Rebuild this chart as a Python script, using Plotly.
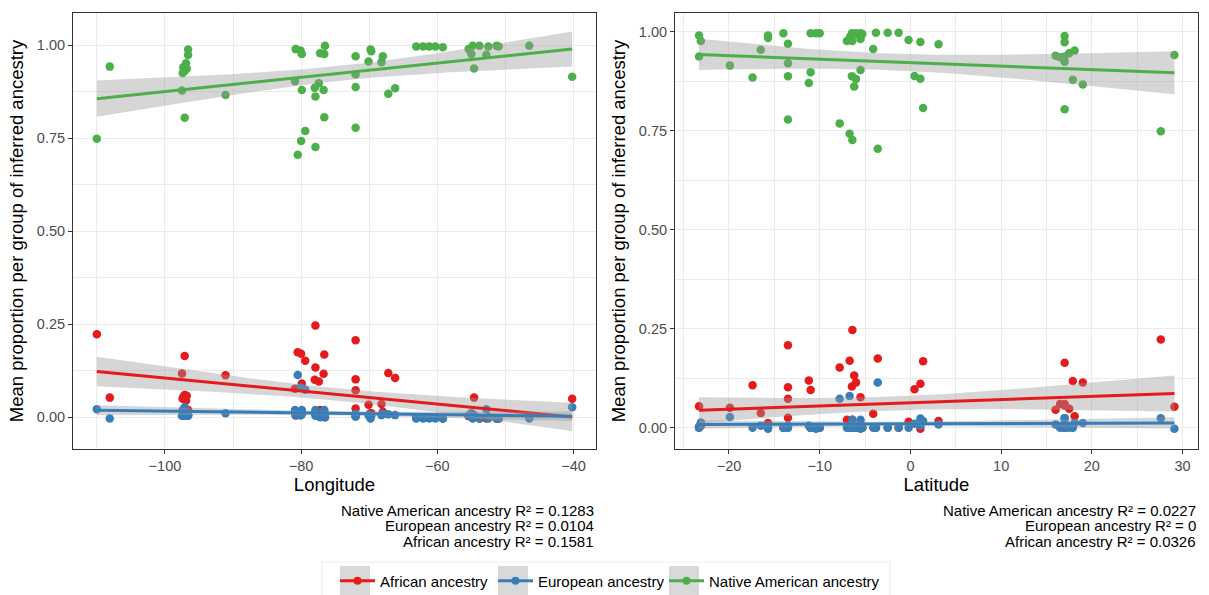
import numpy as np
import plotly.graph_objects as go

# ---------------- data ----------------
series_names = ["African ancestry", "European ancestry", "Native American ancestry"]
series_colors = ["#E41A1C", "#377EB8", "#4DAF4A"]

# Longitude panel
lon = [-110.0, -108.1, -97.5, -97.1, -96.6, -96.6, -96.9, -97.3, -96.8, -97.1, -97.4, -91.1,
       -80.8, -80.1, -79.9, -80.9, -79.9, -80.5, -80.0, -79.4,
       -77.9, -76.6, -77.9, -76.7, -78.0, -77.4, -77.2, -76.5, -76.6,
       -72.0, -72.0, -72.0, -72.0, -70.1, -69.8, -69.7, -68.2, -68.0, -67.2, -66.2,
       -63.1, -62.1, -61.2, -60.3, -59.2,
       -55.4, -54.8, -55.0, -54.6, -53.8, -52.8, -52.5, -51.3, -51.0, -46.5, -40.2]
lon_native = [0.748, 0.942, 0.878, 0.805, 0.988, 0.973, 0.951, 0.940, 0.936, 0.930, 0.925, 0.866,
              0.989, 0.985, 0.976, 0.903, 0.879, 0.705, 0.742, 0.769,
              0.726, 0.806, 0.862, 0.879, 0.885, 0.897, 0.978, 0.998, 0.976,
              0.778, 0.887, 0.921, 0.970, 0.956, 0.988, 0.983, 0.954, 0.970, 0.869, 0.884,
              0.996, 0.996, 0.996, 0.996, 0.994,
              0.989, 0.998, 0.976, 0.937, 0.998, 0.974, 0.996, 0.998, 0.996, 0.998, 0.915]
lon_african = [0.223, 0.053, 0.118, 0.165, 0.005, 0.020, 0.045, 0.055, 0.058, 0.060, 0.050, 0.113,
               0.005, 0.010, 0.015, 0.077, 0.091, 0.175, 0.171, 0.152,
               0.247, 0.169, 0.134, 0.117, 0.101, 0.096, 0.020, 0.000, 0.015,
               0.207, 0.102, 0.073, 0.024, 0.034, 0.011, 0.011, 0.036, 0.015, 0.119, 0.106,
               0.000, 0.000, 0.000, 0.000, -0.003,
               0.003, 0.000, 0.010, 0.053, -0.003, -0.003, 0.000, -0.003, -0.003, 0.000, 0.050]
lon_european = [0.022, -0.003, 0.004, 0.027, 0.004, 0.006, 0.004, 0.004, 0.005, 0.010, 0.020, 0.011,
                0.006, 0.005, 0.008, 0.020, 0.020, 0.114, 0.080, 0.074,
                0.020, 0.020, 0.004, 0.004, 0.012, 0.005, 0.000, 0.000, 0.006,
                0.010, 0.006, 0.002, 0.002, 0.006, -0.003, 0.004, 0.006, 0.010, 0.008, 0.006,
                -0.003, -0.003, -0.003, -0.003, -0.003,
                0.004, -0.003, 0.011, 0.006, -0.003, 0.022, -0.003, -0.003, -0.003, -0.003, 0.027]

# Latitude panel
lat = [-23.3, -23.1, -23.3, -19.9, -17.4, -16.5, -15.7, -15.7, -14.0,
       -13.5, -13.5, -13.5, -13.5, -11.0, -10.4, -10.0, -11.0, -11.2,
       -7.8, -6.7, -6.4, -3.6, -6.45, -6.0, -6.2, -5.5,
       -7.0, -6.65, -6.45, -6.4, -6.0, -5.8, -5.5, -5.5, -5.3,
       -4.1, -3.8, -2.5, -1.3, -0.2, 0.45, 1.1, 1.1, 1.4, 3.1,
       16.0, 16.5, 17.0, 17.0, 17.0, 17.0, 17.0, 17.5, 18.1, 17.9, 19.0, 27.6, 29.1]
lat_native = [0.991, 0.977, 0.938, 0.915, 0.885, 0.955, 0.991, 0.985, 0.997,
              0.970, 0.921, 0.888, 0.779, 0.997, 0.997, 0.997, 0.898, 0.871,
              0.769, 0.743, 0.727, 0.705, 0.888, 0.881, 0.862, 0.904,
              0.977, 0.988, 0.997, 0.977, 0.997, 0.994, 0.997, 0.982, 0.995,
              0.957, 0.998, 0.998, 0.998, 0.980, 0.889, 0.882, 0.975, 0.808, 0.969,
              0.940, 0.936, 0.990, 0.974, 0.938, 0.925, 0.805, 0.946, 0.953, 0.879, 0.867, 0.749, 0.942]
lat_african = [0.003, 0.005, 0.054, 0.050, 0.107, 0.037, 0.000, 0.012, 0.000,
               0.025, 0.073, 0.102, 0.208, 0.000, 0.000, 0.000, 0.095, 0.119,
               0.152, 0.169, 0.247, 0.175, 0.104, 0.114, 0.132, 0.077,
               0.020, 0.005, 0.000, 0.020, 0.000, 0.003, 0.000, 0.010, 0.000,
               0.035, 0.000, 0.000, 0.000, 0.015, 0.097, 0.111, -0.003, 0.168, 0.017,
               0.045, 0.060, 0.000, 0.000, 0.056, 0.060, 0.164, 0.048, 0.029, 0.118, 0.114, 0.223, 0.053]
lat_european = [0.000, 0.013, 0.000, 0.027, 0.000, 0.005, 0.000, -0.003, 0.000,
                0.000, 0.000, 0.005, 0.005, 0.000, -0.003, 0.000, 0.000, 0.005,
                0.073, 0.080, 0.020, 0.114, 0.005, 0.000, 0.000, 0.020,
                0.000, 0.000, 0.000, 0.005, 0.000, 0.000, -0.003, 0.005, 0.000,
                0.000, 0.000, 0.000, 0.000, 0.000, 0.010, 0.005, 0.023, 0.017, 0.008,
                0.008, 0.000, 0.005, 0.024, 0.000, 0.010, 0.024, 0.000, 0.012, 0.000, 0.012, 0.024, -0.003]

r2_lon_labels = ["Native American ancestry R² = 0.1283",
                 "European ancestry R² = 0.0104",
                 "African ancestry R² = 0.1581"]
r2_lat_labels = ["Native American ancestry R² = 0.0227",
                 "European ancestry R² = 0",
                 "African ancestry R² = 0.0326"]

# ---------------- layout geometry ----------------
W, H = 1209, 595
ML, MR, MT, MB = 73, 11, 13, 146
PW, PH = W - ML - MR, H - MT - MB


def px_x(px):
    return (px - ML) / PW


def px_y(py):
    return (H - MB - py) / PH


FONT = "Liberation Sans, Arial, Helvetica, sans-serif"
T975 = 2.005  # t quantile for a 95% interval, ~55 df


def lm_fit(x, y):
    x = np.asarray(x, float)
    y = np.asarray(y, float)
    n = len(x)
    slope, inter = np.polyfit(x, y, 1)
    xs = np.linspace(x.min(), x.max(), 80)
    yh = inter + slope * xs
    res = y - (inter + slope * x)
    s = np.sqrt(np.sum(res ** 2) / (n - 2))
    xb = x.mean()
    se = s * np.sqrt(1.0 / n + (xs - xb) ** 2 / np.sum((x - xb) ** 2))
    return xs, yh, yh - T975 * se, yh + T975 * se


fig = go.Figure()

panels = [
    ("x", "y", lon, [lon_african, lon_european, lon_native]),
    ("x2", "y2", lat, [lat_african, lat_european, lat_native]),
]

for xa, ya, xv, ys in panels:
    # points first
    for name, col, yv in zip(series_names, series_colors, ys):
        fig.add_trace(go.Scatter(x=xv, y=yv, mode="markers", xaxis=xa, yaxis=ya,
                                 marker=dict(color=col, size=8.5, line=dict(width=0)),
                                 showlegend=False, hoverinfo="skip"))
    # smooths (ribbon + line per group)
    for name, col, yv in zip(series_names, series_colors, ys):
        xs, yh, lo, hi = lm_fit(xv, yv)
        fig.add_trace(go.Scatter(x=np.concatenate([xs, xs[::-1]]),
                                 y=np.concatenate([hi, lo[::-1]]),
                                 mode="lines", fill="toself", xaxis=xa, yaxis=ya,
                                 fillcolor="rgba(153,153,153,0.4)", line=dict(width=0),
                                 showlegend=False, hoverinfo="skip"))
        fig.add_trace(go.Scatter(x=xs, y=yh, mode="lines", xaxis=xa, yaxis=ya,
                                 line=dict(color=col, width=3),
                                 showlegend=False, hoverinfo="skip"))

# legend entries (one legend per key so each key box can be placed precisely)
legend_lefts = [335, 493, 664]
legend_ids = ["legend", "legend2", "legend3"]
for name, col, lid in zip(series_names, series_colors, legend_ids):
    fig.add_trace(go.Scatter(x=[None], y=[None], mode="lines+markers", name=name,
                             line=dict(color=col, width=3), marker=dict(color=col, size=8),
                             legend=lid, xaxis="x", yaxis="y"))

axis_common = dict(
    showline=True, mirror=True, linecolor="#333333", linewidth=1,
    ticks="outside", ticklen=4, tickwidth=1, tickcolor="#333333",
    showgrid=True, gridcolor="#ebebeb", gridwidth=1.1, zeroline=False,
    tickfont=dict(family=FONT, size=14.5, color="#4d4d4d"),
)
title_font = dict(family=FONT, size=18.5, color="black")

dom1 = [0, px_x(596)]
dom2 = [px_x(675), 1]

layout = dict(
    width=W, height=H, margin=dict(l=ML, r=MR, t=MT, b=MB, autoexpand=False),
    paper_bgcolor="white", plot_bgcolor="white",
    font=dict(family=FONT, color="black"),
    showlegend=True,
    xaxis=dict(domain=dom1, range=[-113.5, -36.7], tickvals=[-100, -80, -60, -40],
               minor=dict(tickvals=[-110, -90, -70, -50], showgrid=True, gridcolor="#ebebeb",
                          gridwidth=0.6, ticks=""),
               title=dict(text="Longitude", font=title_font, standoff=4), anchor="y",
               **axis_common),
    yaxis=dict(domain=[0, 1], range=[-0.085, 1.086], tickvals=[0, 0.25, 0.5, 0.75, 1.0],
               tickformat=".2f",
               minor=dict(tickvals=[0.125, 0.375, 0.625, 0.875], showgrid=True,
                          gridcolor="#ebebeb", gridwidth=0.6, ticks=""),
               title=dict(text="Mean proportion per group of inferred ancestry", font=title_font,
                          standoff=8), anchor="x", **axis_common),
    xaxis2=dict(domain=dom2, range=[-25.95, 31.7], tickvals=[-20, -10, 0, 10, 20, 30],
                minor=dict(tickvals=[-25, -15, -5, 5, 15, 25], showgrid=True, gridcolor="#ebebeb",
                           gridwidth=0.6, ticks=""),
                title=dict(text="Latitude", font=title_font, standoff=4), anchor="y2",
                **axis_common),
    yaxis2=dict(domain=[0, 1], range=[-0.054, 1.048], tickvals=[0, 0.25, 0.5, 0.75, 1.0],
                tickformat=".2f",
                minor=dict(tickvals=[0.125, 0.375, 0.625, 0.875], showgrid=True,
                           gridcolor="#ebebeb", gridwidth=0.6, ticks=""),
                title=dict(text="Mean proportion per group of inferred ancestry", font=title_font,
                           standoff=8), anchor="x2", **axis_common),
)

legend_y = px_y(581)
for lid, left in zip(legend_ids, legend_lefts):
    layout[lid] = dict(orientation="h", x=px_x(left), xanchor="left", y=legend_y,
                       yanchor="middle", bgcolor="rgba(0,0,0,0)", borderwidth=0,
                       itemwidth=35, font=dict(family=FONT, size=15, color="black"),
                       itemclick=False, itemdoubleclick=False)

fig.update_layout(**layout)

# legend frame and grey key backgrounds
shapes = [dict(type="rect", xref="paper", yref="paper",
               x0=px_x(322), x1=px_x(890), y0=px_y(603), y1=px_y(562),
               line=dict(color="#ececec", width=1), fillcolor="white", layer="below")]
for left in legend_lefts:
    shapes.append(dict(type="rect", xref="paper", yref="paper",
                       x0=px_x(left + 5), x1=px_x(left + 35), y0=px_y(597), y1=px_y(566),
                       line=dict(width=0), fillcolor="#d9d9d9", layer="below"))
fig.update_layout(shapes=shapes)

# R² captions, right-aligned under each panel
caption_ys = [510, 525.5, 541]
annotations = []
for labels, right in ((r2_lon_labels, 596), (r2_lat_labels, 1198)):
    for text, yy in zip(labels, caption_ys):
        annotations.append(dict(text=text, xref="paper", yref="paper", x=px_x(right), y=px_y(yy),
                                xanchor="right", yanchor="middle", showarrow=False,
                                font=dict(family=FONT, size=15, color="black")))
fig.update_layout(annotations=annotations)

fig.write_html("out.html")
